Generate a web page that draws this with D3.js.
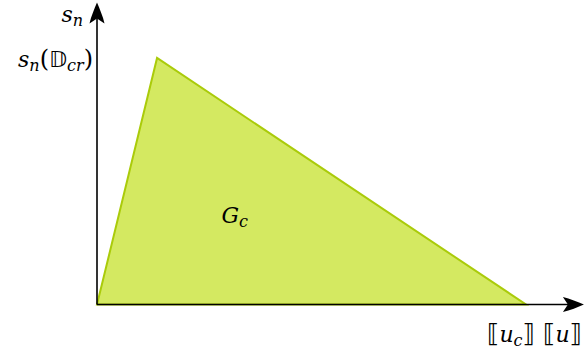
<!DOCTYPE html>
<html>
<head>
<meta charset="utf-8">
<script src="https://cdn.jsdelivr.net/npm/d3@7"></script>
<style>
  body { margin: 0; background: #fff; }
</style>
</head>
<body>
<div id="chart"></div>
<script>
// chart size
const width = 584
const height = 350

// data: traction-separation law (bilinear)
const uVals = [0, 0.14, 1]      // separation, in units of [[u_c]]
const sVals = [0, 1, 0]         // traction, in units of s_n(D_cr)
const uAxisMax = 1.135
const sAxisMax = 1.225
const energyLabel = { u: 0.29, s: 0.33 }

const svg = d3.select("#chart")
  .append("svg")
    .attr("width", width)
    .attr("height", height)

const x = d3.scaleLinear()
  .domain([0, 1])
  .range([97, 526])

const y = d3.scaleLinear()
  .domain([0, 1])
  .range([304.5, 58])

const pts = uVals.map((u, i) => [x(u), y(sVals[i])])

// filled triangle G_c
svg.append("path")
  .attr("d", d3.line()(pts) + "Z")
  .attr("fill", "#d4e961")
  .attr("stroke", "#aacb0a")
  .attr("stroke-width", 2)
  .attr("stroke-linejoin", "miter")

// axes
const axisG = svg.append("g")
  .attr("stroke", "#000")
  .attr("stroke-width", 1.6)

axisG.append("line")
  .attr("x1", x(0)).attr("y1", y(0))
  .attr("x2", x(uAxisMax) - 12).attr("y2", y(0))

axisG.append("line")
  .attr("x1", x(0)).attr("y1", y(0))
  .attr("x2", x(0)).attr("y2", y(sAxisMax) + 12)

// arrow heads (latex style)
function arrow(tipX, tipY, angle) {
  const p = "M0,0 C-6,2.5 -14,6 -21,7.5 L-16,0 L-21,-7.5 C-14,-6 -6,-2.5 0,0 Z"
  svg.append("path")
    .attr("d", p)
    .attr("fill", "#000")
    .attr("transform", `translate(${tipX},${tipY}) rotate(${angle})`)
}
arrow(x(uAxisMax), y(0), 0)
arrow(x(0), y(sAxisMax), -90)

// labels
function mathText(xPos, yPos, parts, anchor) {
  const t = svg.append("text")
    .attr("x", xPos)
    .attr("y", yPos)
    .attr("text-anchor", anchor || "start")
    .attr("font-family", "'DejaVu Serif', serif")
    .attr("font-size", 22)
    .attr("fill", "#000")
  parts.forEach(p => {
    const ts = t.append("tspan").text(p.t)
    if (p.i) ts.attr("font-style", "italic")
    if (p.sub) ts.attr("font-size", 16).attr("dy", 4)
    if (p.up) ts.attr("dy", -4)
    if (p.f) ts.attr("font-family", p.f)
    if (p.w) ts.attr("font-weight", p.w)
    if (p.size) ts.attr("font-size", p.size)
  })
  return t
}

// y axis labels
mathText(x(0) - 14, y(sAxisMax) + 19, [
  { t: "s", i: true }, { t: "n", i: true, sub: true }
], "end")

mathText(x(0) - 4, y(1) + 9, [
  { t: "s", i: true }, { t: "n", i: true, sub: true },
  { t: "(", up: true, w: 300, size: 24 }, { t: "𝔻", f: "DejaVu Sans" }, { t: "cr", i: true, sub: true },
  { t: ")", up: true, w: 300, size: 24 }
], "end")

// x axis labels
mathText(x(1) - 15, y(0) + 37, [
  { t: "⟦", f: "DejaVu Sans", size: 25 }, { t: "u", i: true }, { t: "c", i: true, sub: true },
  { t: "⟧", f: "DejaVu Sans", up: true, size: 25 }
], "middle")

mathText(width - 2, y(0) + 37, [
  { t: "⟦", f: "DejaVu Sans", size: 25 }, { t: "u", i: true }, { t: "⟧", f: "DejaVu Sans", size: 25 }
], "end")

// area label
mathText(x(energyLabel.u), y(energyLabel.s), [
  { t: "G", i: true }, { t: "c", i: true, sub: true }
], "start")
</script>
</body>
</html>
